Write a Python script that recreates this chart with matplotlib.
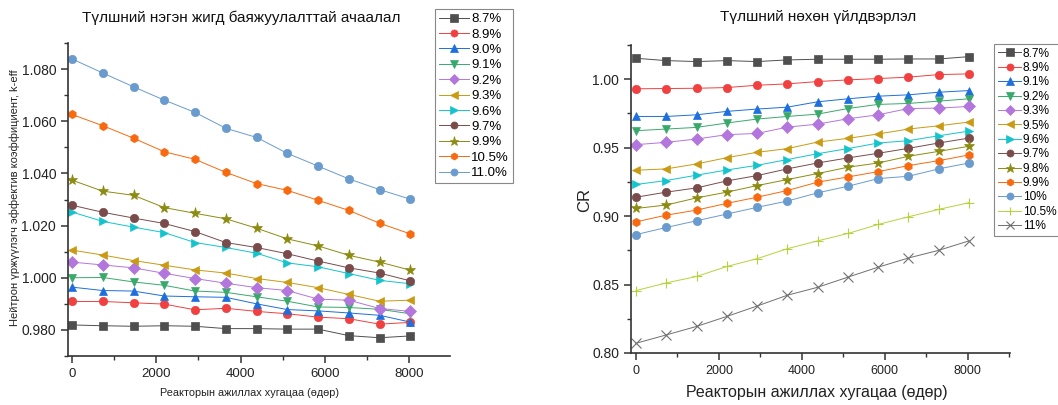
import numpy as np
import matplotlib
matplotlib.use("Agg")
import matplotlib.pyplot as plt
from matplotlib.ticker import MultipleLocator

plt.rcParams['font.family'] = ['Liberation Sans', 'DejaVu Sans']

# хугацаа (өдөр)
days = [0, 730, 1460, 2190, 2920, 3650, 4380, 5110, 5840, 6570, 7300, 8030]

# --- k-eff (зүүн график) ---
keff_labels = ["8.7%", "8.9%", "9.0%", "9.1%", "9.2%", "9.3%", "9.6%", "9.7%", "9.9%", "10.5%", "11.0%"]
keff_87 = [0.9819, 0.9816, 0.9814, 0.9816, 0.9814, 0.9805, 0.9805, 0.9803, 0.9803, 0.9778, 0.9770, 0.9777]
keff_89 = [0.9909, 0.9909, 0.9904, 0.9899, 0.9877, 0.9883, 0.9871, 0.9862, 0.9849, 0.9843, 0.9822, 0.9829]
keff_90 = [0.9964, 0.9951, 0.9949, 0.9930, 0.9927, 0.9925, 0.9900, 0.9878, 0.9873, 0.9865, 0.9856, 0.9830]
keff_91 = [1.0000, 1.0001, 0.9984, 0.9971, 0.9949, 0.9944, 0.9927, 0.9910, 0.9888, 0.9886, 0.9879, 0.9862]
keff_92 = [1.0060, 1.0049, 1.0038, 1.0017, 0.9997, 0.9979, 0.9962, 0.9951, 0.9918, 0.9914, 0.9882, 0.9871]
keff_93 = [1.0106, 1.0087, 1.0066, 1.0048, 1.0030, 1.0018, 0.9997, 0.9982, 0.9962, 0.9936, 0.9910, 0.9914]
keff_96 = [1.0252, 1.0216, 1.0194, 1.0173, 1.0135, 1.0116, 1.0094, 1.0057, 1.0042, 1.0016, 0.9990, 0.9977]
keff_97 = [1.0278, 1.0251, 1.0229, 1.0208, 1.0177, 1.0135, 1.0116, 1.0092, 1.0064, 1.0038, 1.0018, 0.9988]
keff_99 = [1.0374, 1.0332, 1.0316, 1.0269, 1.0247, 1.0226, 1.0190, 1.0149, 1.0122, 1.0086, 1.0060, 1.0029]
keff_105 = [1.0626, 1.0583, 1.0535, 1.0483, 1.0454, 1.0404, 1.0361, 1.0335, 1.0297, 1.0258, 1.0209, 1.0168]
keff_110 = [1.0839, 1.0785, 1.0732, 1.0681, 1.0634, 1.0573, 1.0538, 1.0477, 1.0428, 1.0379, 1.0338, 1.0301]
keff_series = [keff_87, keff_89, keff_90, keff_91, keff_92, keff_93, keff_96, keff_97, keff_99, keff_105, keff_110]

# --- CR (баруун график) ---
cr_labels = ["8.7%", "8.9%", "9.1%", "9.2%", "9.3%", "9.5%", "9.6%", "9.7%", "9.8%", "9.9%", "10%", "10.5%", "11%"]
cr_87 = [1.0153, 1.0136, 1.0129, 1.0136, 1.0129, 1.0141, 1.0146, 1.0146, 1.0146, 1.0148, 1.0148, 1.0165]
cr_89 = [0.9930, 0.9932, 0.9934, 0.9939, 0.9956, 0.9966, 0.9983, 0.9995, 1.0005, 1.0015, 1.0034, 1.0039]
cr_91 = [0.9728, 0.9728, 0.9740, 0.9765, 0.9782, 0.9796, 0.9835, 0.9857, 0.9876, 0.9886, 0.9905, 0.9917]
cr_92 = [0.9624, 0.9636, 0.9648, 0.9680, 0.9709, 0.9728, 0.9745, 0.9786, 0.9816, 0.9823, 0.9840, 0.9857]
cr_93 = [0.9522, 0.9539, 0.9563, 0.9595, 0.9604, 0.9650, 0.9672, 0.9711, 0.9740, 0.9786, 0.9789, 0.9801]
cr_95 = [0.9335, 0.9345, 0.9381, 0.9427, 0.9466, 0.9493, 0.9541, 0.9568, 0.9600, 0.9636, 0.9660, 0.9687]
cr_96 = [0.9231, 0.9260, 0.9299, 0.9337, 0.9371, 0.9413, 0.9456, 0.9493, 0.9534, 0.9551, 0.9587, 0.9621]
cr_97 = [0.9138, 0.9175, 0.9206, 0.9257, 0.9296, 0.9345, 0.9388, 0.9425, 0.9459, 0.9495, 0.9534, 0.9570]
cr_98 = [0.9056, 0.9081, 0.9133, 0.9175, 0.9223, 0.9267, 0.9311, 0.9357, 0.9388, 0.9437, 0.9473, 0.9510]
cr_99 = [0.8958, 0.9007, 0.9044, 0.9093, 0.9138, 0.9187, 0.9248, 0.9286, 0.9325, 0.9369, 0.9405, 0.9447]
cr_100 = [0.8865, 0.8917, 0.8966, 0.9015, 0.9064, 0.9110, 0.9170, 0.9218, 0.9274, 0.9291, 0.9345, 0.9388]
cr_105 = [0.8456, 0.8512, 0.8559, 0.8632, 0.8689, 0.8762, 0.8819, 0.8873, 0.8939, 0.8995, 0.9049, 0.9098]
cr_110 = [0.8071, 0.8132, 0.8194, 0.8267, 0.8343, 0.8422, 0.8480, 0.8554, 0.8627, 0.8694, 0.8750, 0.8819]
cr_series = [cr_87, cr_89, cr_91, cr_92, cr_93, cr_95, cr_96, cr_97, cr_98, cr_99, cr_100, cr_105, cr_110]

# Origin маягийн өнгө, тэмдэглэгээ
styles = {
    "8.7%": ("#4f4f4f", "s"), "8.9%": ("#f0403f", "o"), "9.0%": ("#1c6fdc", "^"),
    "9.1%": ("#1c6fdc", "^"), "9.2%": ("#39a96b", "v"), "9.3%": ("#b276dc", "D"),
    "9.5%": ("#c99a12", "<"), "9.6%": ("#14c4cc", ">"), "9.7%": ("#7a4b4b", "o"),
    "9.8%": ("#8c8c12", "*"), "9.9%": ("#8c8c12", "*"), "10%": ("#6a9bcf", "o"),
    "10.5%": ("#f76a10", "h"), "11.0%": ("#6a9bcf", "o"), "11%": ("#707070", "x"),
}
# зүүн графикт өнгө өөр байрлалтай
left_styles = {
    "9.1%": ("#39a96b", "v"), "9.2%": ("#b276dc", "D"), "9.3%": ("#c99a12", "<"),
}
right_styles = {
    "9.2%": ("#39a96b", "v"), "9.3%": ("#b276dc", "D"), "9.9%": ("#f76a10", "h"),
    "10.5%": ("#b5d33d", "+"),
}

W, H = 1058, 405
fig = plt.figure(figsize=(W / 100, H / 100), dpi=100)

ax1 = fig.add_axes([68 / W, 1 - 356 / H, 382 / W, 313 / H])
ax2 = fig.add_axes([631 / W, 1 - 353 / H, 379 / W, 308 / H])


def style_axes(ax):
    for s in ["top", "right"]:
        ax.spines[s].set_visible(False)
    for s in ["left", "bottom"]:
        ax.spines[s].set_linewidth(1.2)
        ax.spines[s].set_color("#333333")
    ax.tick_params(which="major", direction="out", length=5, width=1.1, color="#333333",
                   labelcolor="#222222")
    ax.tick_params(which="minor", direction="out", length=3, width=1.0, color="#333333")
    ax.xaxis.set_major_locator(MultipleLocator(2000))
    ax.xaxis.set_minor_locator(MultipleLocator(1000))


for lab, ys in zip(keff_labels, keff_series):
    c, m = left_styles.get(lab, styles[lab])
    ms = 8 if m == "*" else 6
    ax1.plot(days, ys, color=c, lw=0.7, marker=m, ms=ms, mec=c, mew=0.5, label=lab)

style_axes(ax1)
ax1.set_xlim(-95, 8970)
ax1.set_ylim(0.970, 1.090)
ax1.yaxis.set_major_locator(MultipleLocator(0.02))
ax1.yaxis.set_minor_locator(MultipleLocator(0.01))
ax1.yaxis.set_major_formatter(matplotlib.ticker.FormatStrFormatter("%.3f"))
ax1.tick_params(axis="y", labelsize=10)
ax1.tick_params(axis="x", labelsize=9.5)

for lab, ys in zip(cr_labels, cr_series):
    c, m = right_styles.get(lab, styles[lab])
    if m in ("+", "x"):
        ax2.plot(days, ys, color=c, lw=0.7, marker=m, ms=7, mew=0.8, label=lab)
    else:
        ms = 8 if m == "*" else 6
        ax2.plot(days, ys, color=c, lw=0.7, marker=m, ms=ms, mec=c, mew=0.5, label=lab)

style_axes(ax2)
ax2.set_xlim(-120, 9020)
ax2.set_ylim(0.80, 1.025)
ax2.yaxis.set_major_locator(MultipleLocator(0.05))
ax2.yaxis.set_minor_locator(MultipleLocator(0.025))
ax2.yaxis.set_major_formatter(matplotlib.ticker.FormatStrFormatter("%.2f"))
ax2.tick_params(axis="y", labelsize=10)
ax2.tick_params(axis="x", labelsize=9)

leg1 = ax1.legend(loc="upper left", bbox_to_anchor=(435 / W, 1 - 9 / H),
                  bbox_transform=fig.transFigure, borderaxespad=0, fontsize=9.5,
                  handlelength=2.3, handletextpad=0.15, labelspacing=0.24,
                  borderpad=0.3, fancybox=False, framealpha=1, markerscale=0.85)
leg1.get_frame().set_edgecolor("#888888")
leg1.get_frame().set_linewidth(0.8)

leg2 = ax2.legend(loc="upper left", bbox_to_anchor=(994 / W, 1 - 44 / H),
                  bbox_transform=fig.transFigure, borderaxespad=0, fontsize=8.6,
                  handlelength=2.0, handletextpad=0.1, labelspacing=0.2,
                  borderpad=0.3, fancybox=False, framealpha=1, markerscale=0.85)
leg2.get_frame().set_edgecolor("#888888")
leg2.get_frame().set_linewidth(0.8)

# гарчиг, тэнхлэгийн нэрс
fig.text(241 / W, 1 - 18 / H, "Түлшний нэгэн жигд баяжуулалттай ачаалал",
         ha="center", va="center", fontsize=11, color="#111111")
fig.text(818 / W, 1 - 17 / H, "Түлшний нөхөн үйлдвэрлэл",
         ha="center", va="center", fontsize=11, color="#111111")
fig.text(250 / W, 1 - 393 / H, "Реакторын ажиллах хугацаа (өдөр)",
         ha="center", va="center", fontsize=7.8, color="#222222")
fig.text(817 / W, 1 - 392 / H, "Реакторын ажиллах хугацаа (өдөр)",
         ha="center", va="center", fontsize=11.5, color="#222222")
fig.text(15 / W, 1 - 198 / H, "Нейтрон үржүүлэгч эффектив коэффициент, k-eff",
         ha="center", va="center", rotation=90, fontsize=8, color="#222222")
fig.text(585 / W, 1 - 200 / H, "CR", ha="center", va="center", rotation=90,
         fontsize=12, color="#222222")

fig.savefig("out.png", dpi=100)
